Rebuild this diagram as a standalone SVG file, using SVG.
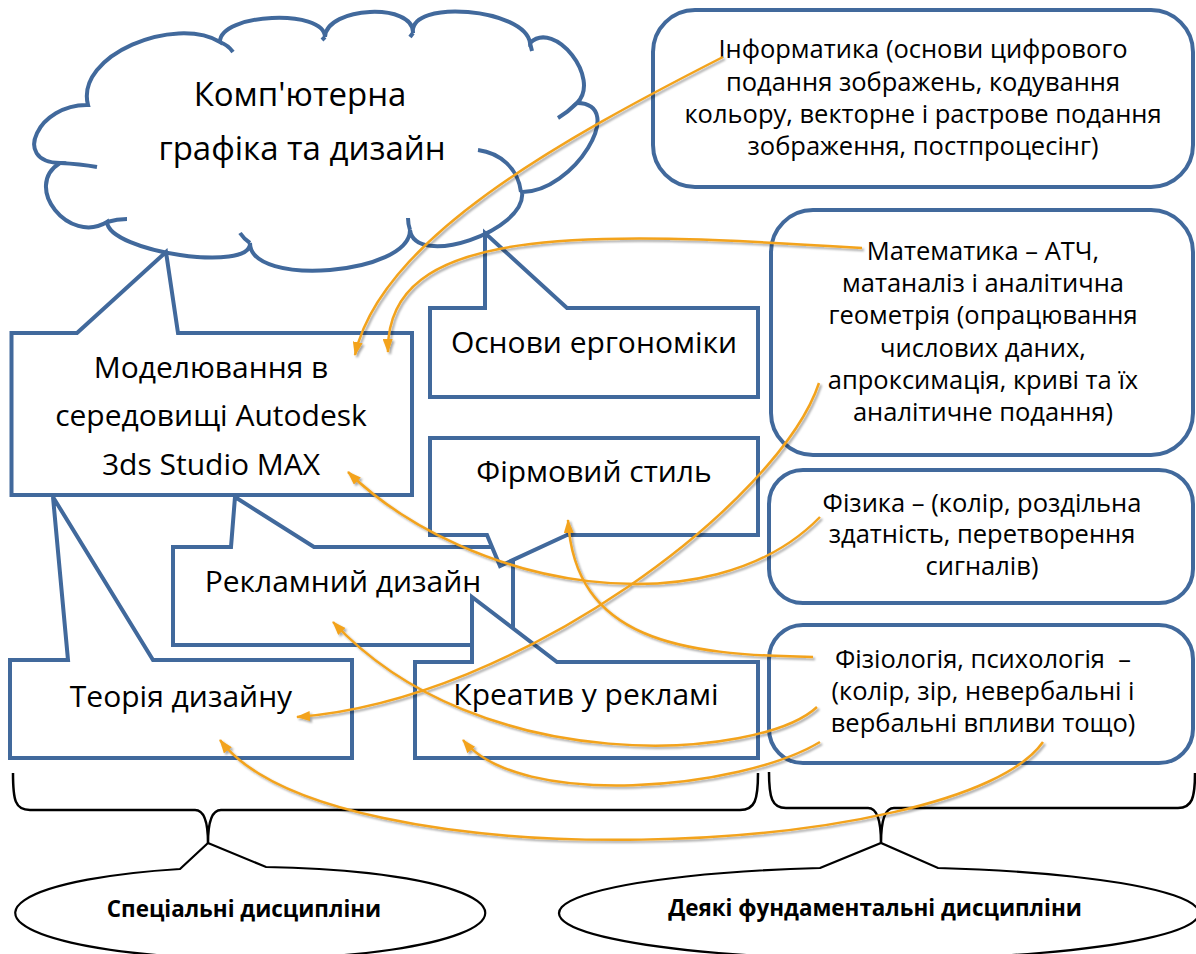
<svg xmlns="http://www.w3.org/2000/svg" width="1196" height="954" viewBox="0 0 1196 954">
<style>
.shape{fill:#fff;stroke:#41699C;stroke-width:4;stroke-linejoin:miter}
.crease{fill:none;stroke:#41699C;stroke-width:4;stroke-linecap:butt}
.rbox{fill:#fff;stroke:#41699C;stroke-width:4}
.t{font-family:"Open Sans","Noto Sans","DejaVu Sans",sans-serif;fill:#000;text-anchor:middle}
.big{font-size:33px}
.mid{font-size:30px}
.sm{font-size:25.5px}
.bold{font-size:22.4px;font-weight:bold}
.brace{fill:none;stroke:#000;stroke-width:2.5}
.ell{fill:#fff;stroke:#000;stroke-width:2.2}
.arr{fill:none;stroke:#F3A31C;stroke-width:2.5;marker-end:url(#ah)}
</style>
<defs>
<marker id="ah" viewBox="0 0 14 10" refX="13" refY="5" markerWidth="14" markerHeight="10" orient="auto" markerUnits="userSpaceOnUse">
<path d="M0,0 L14,5 L0,10 Z" fill="#F3A31C"/>
</marker>
<filter id="sh" filterUnits="userSpaceOnUse" x="0" y="0" width="1196" height="954">
<feDropShadow dx="2" dy="2" stdDeviation="1.2" flood-color="#000" flood-opacity="0.35"/>
</filter>
</defs>
<rect width="1196" height="954" fill="#fff"/>

<g id="cloud">
<path class="shape" d="M60,163 C10.7,161.7 38.7,103.7 88,105 C75,55 175,15 220,42 C219.3,13.3 324.3,8.3 325,37 C326.3,6.3 414.3,2.3 413,33 C408.3,-1.7 525.3,8.3 530,43 C554.7,19 601.7,79 577,103 C628.3,103.7 573.3,192.7 522,192 C527.3,230.7 415.3,268.7 410,230 C410,274.7 250,287.7 250,243 C252,273 109,252 107,222 C69,245.3 22,186.3 60,163 Z"/>
<path class="crease" d="M60,163 Q80,164 97,167 M107,222 Q117,219 127,219 M250,243 Q244,239 240,233 M410,230 Q408,224 408,218 M478,150 C500,153 518,168 521,192 M577,103 Q568,112 558,118 M530,43 L532,51 M413,33 L410,37 M325,37 L322,40 M220,42 Q228,45 233,52"/>
<text class="t big" x="300" y="106">Комп'ютерна</text>
<text class="t big" x="302" y="160">графіка та дизайн</text>
</g>

<g id="node-modeling">
<path class="shape" d="M11.5,333 L77,333 L166,252 L178,333 L412,333 L412,495 L11.5,495 Z"/>
<text class="t mid" x="211" y="378">Моделювання в</text>
<text class="t mid" x="211" y="426">середовищі Autodesk</text>
<text class="t mid" x="211" y="475">3ds Studio MAX</text>
</g>

<g id="node-theory">
<path class="shape" d="M10,660 L68,660 L53,497 L153,660 L352,660 L352,758 L10,758 Z"/>
<text class="t mid" x="181" y="707">Теорія дизайну</text>
</g>

<g id="node-ad-design">
<path class="shape" d="M173,547 L231,547 L235,497 L314,547 L513,547 L513,645 L173,645 Z"/>
<text class="t mid" x="343" y="592">Рекламний дизайн</text>
</g>

<g id="node-brand">
<path class="shape" d="M430,438 L758,438 L758,535 L567,535 L500,566 L487,535 L430,535 Z"/>
<text class="t mid" x="594" y="482">Фірмовий стиль</text>
</g>

<g id="node-creative">
<path class="shape" d="M415,662 L472,662 L472,597 L557,662 L758,662 L758,758 L415,758 Z"/>
<text class="t mid" x="586" y="705">Креатив у рекламі</text>
</g>

<g id="node-ergonomics">
<path class="shape" d="M430,308 L485,308 L485,233 L567,308 L758,308 L758,397 L430,397 Z"/>
<text class="t mid" x="594" y="353">Основи ергономіки</text>
</g>

<g id="node-informatics">
<rect class="rbox" x="653" y="10" width="540" height="177" rx="42" ry="42"/>
<text class="t sm" x="923" y="58">Інформатика (основи цифрового</text>
<text class="t sm" x="923" y="91">подання зображень, кодування</text>
<text class="t sm" x="923" y="123">кольору, векторне і растрове подання</text>
<text class="t sm" x="923" y="155">зображення, постпроцесінг)</text>
</g>

<g id="node-math">
<rect class="rbox" x="771" y="210" width="422" height="245" rx="42" ry="42"/>
<text class="t sm" x="983" y="260">Математика – АТЧ,</text>
<text class="t sm" x="983" y="292">матаналіз і аналітична</text>
<text class="t sm" x="983" y="324">геометрія (опрацювання</text>
<text class="t sm" x="983" y="357">числових даних,</text>
<text class="t sm" x="983" y="389">апроксимація, криві та їх</text>
<text class="t sm" x="983" y="421">аналітичне подання)</text>
</g>

<g id="node-physics">
<rect class="rbox" x="769" y="470" width="424" height="133" rx="34" ry="34"/>
<text class="t sm" x="982" y="512">Фізика – (колір, роздільна</text>
<text class="t sm" x="982" y="543">здатність, перетворення</text>
<text class="t sm" x="982" y="575">сигналів)</text>
</g>

<g id="node-physiology">
<rect class="rbox" x="769" y="625" width="424" height="138" rx="34" ry="34"/>
<text class="t sm" x="983" y="668" xml:space="preserve">Фізіологія, психологія  –</text>
<text class="t sm" x="983" y="700">(колір, зір, невербальні і</text>
<text class="t sm" x="983" y="732">вербальні впливи тощо)</text>
</g>

<g id="brace-left">
<path class="brace" d="M13,773 C13,800 15,810 30,810 L195,810 Q208,810 208,843 Q208,810 221,810 L740,810 C755,810 758,800 758,773"/>
</g>
<g id="brace-right">
<path class="brace" d="M769,772 C769,798 772,808 786,808 L868,808 Q881,808 881,843 Q881,808 894,808 L1178,808 C1192,808 1195,798 1195,773"/>
</g>

<g id="node-special">
<path class="ell" d="M180,869 L208,843 L266,867 A235,46 0 1 1 180,869 Z"/>
<text class="t bold" x="244" y="917">Спеціальні дисципліни</text>
</g>
<g id="node-fundamental">
<path class="ell" d="M820,868 L881,843 L938,868 A320,46 0 1 1 820,868 Z"/>
<text class="t bold" x="875" y="916">Деякі фундаментальні дисципліни</text>
</g>

<g id="connectors" filter="url(#sh)">
<path class="arr" d="M723,57 C560,140 380,240 355,355"/>
<path class="arr" d="M862,248 C580,230 385,225 388,352"/>
<path class="arr" d="M820,517 C710,630 470,590 348,472"/>
<path class="arr" d="M819,383 C780,500 520,700 297,717"/>
<path class="arr" d="M813,657 C680,655 575,640 568,520"/>
<path class="arr" d="M817,707 C760,760 480,780 333,622"/>
<path class="arr" d="M820,742 C740,790 520,810 463,740"/>
<path class="arr" d="M1043,742 C960,860 330,885 220,740"/>
</g>
</svg>
